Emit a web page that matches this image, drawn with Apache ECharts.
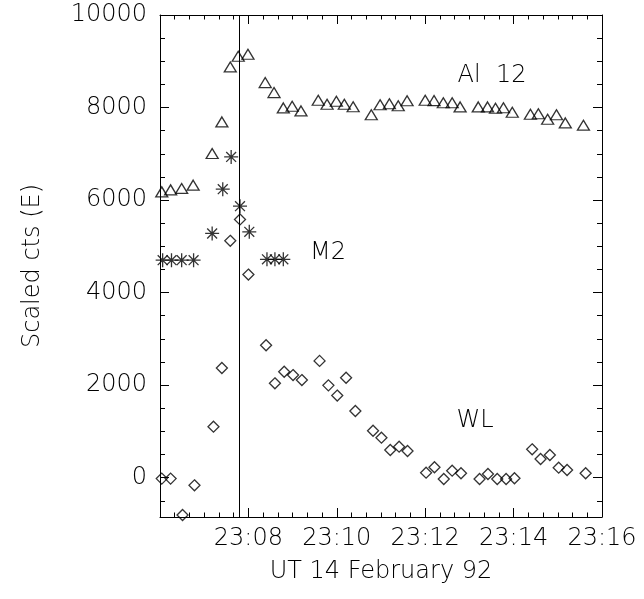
<!DOCTYPE html>
<html>
<head>
<meta charset="utf-8">
<script src="https://cdn.jsdelivr.net/npm/echarts@6/dist/echarts.min.js"></script>
<style>
html,body{margin:0;padding:0;background:#fff;}
#chart{width:644px;height:599px;}
</style>
</head>
<body>
<div id="chart"></div>
<script>
// Time in minutes after 23:00 UT, 14 February 1992
const alTimes = [6.04, 6.24, 6.49, 6.75, 7.18, 7.40, 7.59, 7.77, 7.99, 8.38, 8.58, 8.79, 8.99, 9.19,
  9.58, 9.78, 9.99, 10.17, 10.37, 10.78, 10.98, 11.19, 11.39, 11.59, 12.00, 12.20, 12.41, 12.61, 12.79,
  13.20, 13.41, 13.59, 13.77, 13.97, 14.38, 14.56, 14.77, 14.97, 15.17, 15.58];
const alValues = [6177, 6220, 6251, 6322, 7006, 7689, 8877, 9108, 9151, 8540, 8324, 7991, 8028, 7927,
  8158, 8071, 8136, 8071, 8017, 7844, 8060, 8082, 8039, 8147, 8158, 8151, 8104, 8104, 8013,
  8013, 8013, 7985, 7996, 7898, 7855, 7866, 7747, 7844, 7667, 7618];

const m2Times = [6.06, 6.26, 6.49, 6.76, 7.18, 7.42, 7.61, 7.81, 8.02, 8.42, 8.60, 8.79];
const m2Values = [4700, 4700, 4700, 4700, 5278, 6235, 6933, 5868, 5313, 4720, 4720, 4720];

const wlTimes = [6.04, 6.24, 6.51, 6.78, 7.21, 7.40, 7.59, 7.81, 8.00, 8.40, 8.60, 8.81, 9.01, 9.21,
  9.61, 9.81, 10.01, 10.21, 10.42, 10.82, 11.01, 11.21, 11.41, 11.60, 12.02, 12.21, 12.42, 12.61, 12.81,
  13.23, 13.42, 13.63, 13.83, 14.02, 14.42, 14.61, 14.82, 15.02, 15.21, 15.63];
const wlValues = [-20, -20, -806, -165, 1102, 2370, 5119, 5581, 4390, 2863, 2039, 2289, 2218, 2110,
  2524, 1995, 1775, 2160, 1441, 1015, 864, 598, 670, 577, 108, 225, -28, 151, 95,
  -28, 80, -28, -28, -13, 613, 404, 490, 216, 166, 95];

const markerTime = 7.8; // vertical line at 23:07:48

const xTickValues = [6, 8, 10, 12, 14, 16];
const xTickLabels = ['', '23:08', '23:10', '23:12', '23:14', '23:16'];
const yMajorTicks = [0, 2000, 4000, 6000, 8000, 10000];
const yTickLabels = ['0', '2000', '4000', '6000', '8000', '10000'];
const yMinorTicks = [-500, 500, 1000, 1500, 2500, 3000, 3500, 4500, 5000, 5500, 6500, 7000, 7500, 8500, 9000, 9500];

const FONT = 'DejaVu Sans';
const FW = 200;
const FS = 24;
const INK = '#000';

const zip = (a, b) => a.map((t, i) => [t, b[i]]);

const asteriskPath = 'path://M0,6L12,6M6,0L6,12M1.76,1.76L10.24,10.24M10.24,1.76L1.76,10.24';

function xAxisCfg(pos, showLabels) {
  return {
    type: 'value', position: pos, min: 6, max: 16, interval: 2,
    axisLine: { show: true, onZero: false, lineStyle: { color: INK, width: 1 } },
    axisTick: { show: true, inside: true, length: 9, lineStyle: { color: INK, width: 1 } },
    minorTick: { show: true, splitNumber: 6, length: 4.5, lineStyle: { color: INK, width: 1 } },
    splitLine: { show: false }, minorSplitLine: { show: false },
    axisLabel: {
      show: showLabels, margin: 10, fontFamily: FONT, fontWeight: FW, fontSize: FS, color: INK,
      formatter: (v) => { const i = xTickValues.indexOf(v); return i >= 0 ? xTickLabels[i] : ''; }
    }
  };
}
function yAxisCfg(pos, ticks, len, showLine, showLabels) {
  return {
    type: 'value', position: pos, min: -850, max: 10000,
    axisLine: { show: showLine, onZero: false, lineStyle: { color: INK, width: 1 } },
    axisTick: { show: true, inside: true, length: len, customValues: ticks, lineStyle: { color: INK, width: 1 } },
    splitLine: { show: false },
    axisLabel: {
      show: showLabels, customValues: ticks, margin: 13, fontFamily: FONT, fontWeight: FW, fontSize: FS, color: INK,
      formatter: (v) => { const i = yMajorTicks.indexOf(v); return i >= 0 ? yTickLabels[i] : ''; }
    }
  };
}

const xBottom = xAxisCfg('bottom', true);
xBottom.name = 'UT 14 February 92';
xBottom.nameLocation = 'middle';
xBottom.nameGap = 43;
xBottom.nameTextStyle = { fontFamily: FONT, fontWeight: FW, fontSize: FS, color: INK };

const yLeft = yAxisCfg('left', yMajorTicks, 9, true, true);
yLeft.name = 'Scaled cts (E)';
yLeft.nameLocation = 'middle';
yLeft.nameGap = 115;
yLeft.nameTextStyle = { fontFamily: FONT, fontWeight: FW, fontSize: FS, color: INK };

const chart = echarts.init(document.getElementById('chart'), null, { renderer: 'canvas' });
chart.setOption({
  animation: false,
  backgroundColor: '#fff',
  grid: { left: 160, right: 42, top: 15, bottom: 82, containLabel: false, outerBoundsMode: 'none' },
  xAxis: [xBottom, xAxisCfg('top', false)],
  yAxis: [
    yLeft,
    yAxisCfg('left', yMinorTicks, 5, false, false),
    yAxisCfg('right', yMajorTicks, 9, true, false),
    yAxisCfg('right', yMinorTicks, 5, false, false)
  ],
  series: [
    {
      name: 'Al 12', type: 'scatter', xAxisIndex: 0, yAxisIndex: 0,
      data: zip(alTimes, alValues),
      symbol: 'triangle', symbolSize: [12, 10],
      itemStyle: { color: 'rgba(0,0,0,0)', borderColor: INK, borderWidth: 1.3 },
      markLine: {
        silent: true, symbol: 'none', animation: false,
        label: { show: false },
        lineStyle: { color: INK, width: 1, type: 'solid' },
        data: [{ xAxis: markerTime }]
      }
    },
    {
      name: 'M2', type: 'scatter', xAxisIndex: 0, yAxisIndex: 0,
      data: zip(m2Times, m2Values),
      symbol: asteriskPath, symbolSize: 14,
      itemStyle: { color: 'rgba(0,0,0,0)', borderColor: INK, borderWidth: 1.3 }
    },
    {
      name: 'WL', type: 'scatter', xAxisIndex: 0, yAxisIndex: 0,
      data: zip(wlTimes, wlValues),
      symbol: 'diamond', symbolSize: [11, 11],
      itemStyle: { color: 'rgba(0,0,0,0)', borderColor: INK, borderWidth: 1.3 }
    }
  ],
  graphic: [
    { type: 'text', x: 492, y: 76, style: { text: 'Al  12', font: FW + ' ' + FS + 'px "' + FONT + '"', fill: INK, textAlign: 'center', textVerticalAlign: 'middle' } },
    { type: 'text', x: 328, y: 253, style: { text: 'M2', font: FW + ' ' + FS + 'px "' + FONT + '"', fill: INK, textAlign: 'center', textVerticalAlign: 'middle' } },
    { type: 'text', x: 475, y: 421, style: { text: 'WL', font: FW + ' ' + FS + 'px "' + FONT + '"', fill: INK, textAlign: 'center', textVerticalAlign: 'middle' } }
  ]
});
</script>
</body>
</html>
